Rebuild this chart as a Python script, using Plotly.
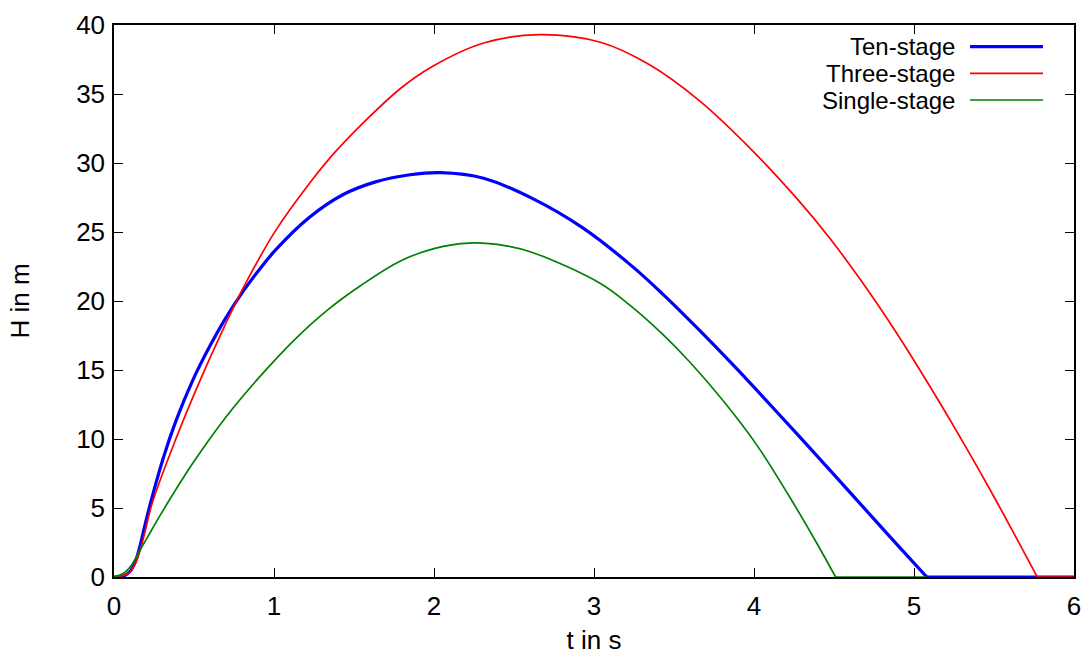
import plotly.graph_objects as go

# ---- data ----
series_names = ["Ten-stage", "Three-stage", "Single-stage"]
series_colors = ["#0000ff", "#ff0000", "#008000"]
series_widths = [3.2, 1.7, 1.7]

t_ten = [0, 0.06, 0.10, 0.13, 0.15, 0.17, 0.19, 0.22, 0.31, 0.39, 0.49, 0.60, 0.70, 0.81,
         0.91, 1.01, 1.22, 1.43, 1.64, 1.85, 2.04, 2.31, 2.62, 2.93, 3.23, 3.43, 3.64,
         3.85, 4.06, 4.27, 4.47, 4.68, 4.89, 5.08, 6.0]
h_ten = [0, 0.07, 0.4, 1.0, 1.7, 2.6, 3.6, 5.0, 8.7, 11.4, 14.2, 16.75, 18.8, 20.75,
         22.3, 23.7, 26.05, 27.7, 28.65, 29.15, 29.3, 28.9, 27.4, 25.3, 22.6, 20.5, 18.1,
         15.6, 13.0, 10.35, 7.8, 5.1, 2.4, 0, 0]

t_three = [0, 0.09, 0.13, 0.16, 0.19, 0.24, 0.39, 0.54, 0.66, 0.81, 1.01, 1.22, 1.39,
           1.79, 1.99, 2.31, 2.66, 3.04, 3.35, 3.66, 3.99, 4.27, 4.47, 4.68, 4.89, 5.10,
           5.31, 5.51, 5.77, 6.0]
h_three = [0, 0.27, 0.9, 1.8, 3.1, 5.4, 10.1, 14.3, 17.4, 21.0, 25.1, 28.5, 30.9,
           35.4, 37.0, 38.7, 39.3, 38.75, 37.1, 34.5, 30.9, 27.4, 24.6, 21.3, 17.7, 13.8,
           9.7, 5.6, 0, 0]

t_single = [0, 0.06, 0.11, 0.16, 0.23, 0.29, 0.49, 0.70, 0.91, 1.12, 1.33, 1.54, 1.79,
            2.00, 2.22, 2.45, 2.62, 3.04, 3.22, 3.43, 3.60, 3.81, 4.02, 4.22, 4.39, 4.51, 5.08]
h_single = [0, 0.27, 0.87, 1.9, 3.3, 4.5, 8.2, 11.6, 14.5, 17.1, 19.3, 21.1, 22.9,
            23.8, 24.2, 24.0, 23.5, 21.27, 19.74, 17.58, 15.56, 12.73, 9.52, 5.85, 2.5, 0, 0]

x_ticks = [0, 1, 2, 3, 4, 5, 6]
y_ticks = [0, 5, 10, 15, 20, 25, 30, 35, 40]
x_title = "t in s"
y_title = "H in m"

xs = [t_ten, t_three, t_single]
ys = [h_ten, h_three, h_single]

FONT = "Liberation Sans, Arial, Helvetica, sans-serif"
FS = 26
FS_LEG = 24

fig = go.Figure()
for name, x, y, c, w in zip(series_names, xs, ys, series_colors, series_widths):
    # split the series into the flight part (smooth) and the ground part (straight)
    peak = y.index(max(y))
    land = next(i for i in range(peak, len(y)) if y[i] == 0)
    fig.add_trace(go.Scatter(x=x[:land + 1], y=y[:land + 1], mode="lines", name=name,
                             line=dict(color=c, width=w, shape="spline", smoothing=1.0),
                             showlegend=False))
    fig.add_trace(go.Scatter(x=x[land:], y=y[land:], mode="lines", name=name,
                             line=dict(color=c, width=w), showlegend=False))

# gnuplot-style legend: text on the left, line sample on the right (top-right, inside)
row_y = [0.9607, 0.9125, 0.8641]
for name, c, w, yy in zip(series_names, series_colors, series_widths, row_y):
    fig.add_annotation(xref="paper", yref="paper", x=0.877, y=yy, text=name,
                       showarrow=False, xanchor="right", yanchor="middle", borderpad=0,
                       font=dict(family=FONT, size=FS_LEG, color="black"))
    fig.add_shape(type="line", xref="paper", yref="paper", x0=0.8917, x1=0.9677,
                  y0=yy, y1=yy, line=dict(color=c, width=w))

axis_common = dict(showline=True, linecolor="black", linewidth=1.5, mirror="ticks",
                   ticks="inside", ticklen=9, tickwidth=1, tickcolor="black",
                   showgrid=False, zeroline=False,
                   tickfont=dict(family=FONT, size=FS, color="black"))

fig.update_xaxes(range=[0, 6], tickvals=x_ticks, ticktext=[str(v) for v in x_ticks],
                 title=dict(text=x_title, font=dict(family=FONT, size=FS, color="black"),
                            standoff=14),
                 ticklabelstandoff=5, **axis_common)
fig.update_yaxes(range=[0, 40], tickvals=y_ticks, ticktext=[str(v) for v in y_ticks],
                 title=dict(text=y_title, font=dict(family=FONT, size=FS, color="black"),
                            standoff=39),
                 ticklabelstandoff=2, **axis_common)

fig.update_layout(width=1086, height=655, autosize=False,
                  margin=dict(l=114, r=12, t=25, b=78, autoexpand=False),
                  paper_bgcolor="white", plot_bgcolor="white",
                  font=dict(family=FONT, size=FS, color="black"))

fig.write_html("out.html", config={"displayModeBar": False},
               post_script="document.body.style.margin='0';")
